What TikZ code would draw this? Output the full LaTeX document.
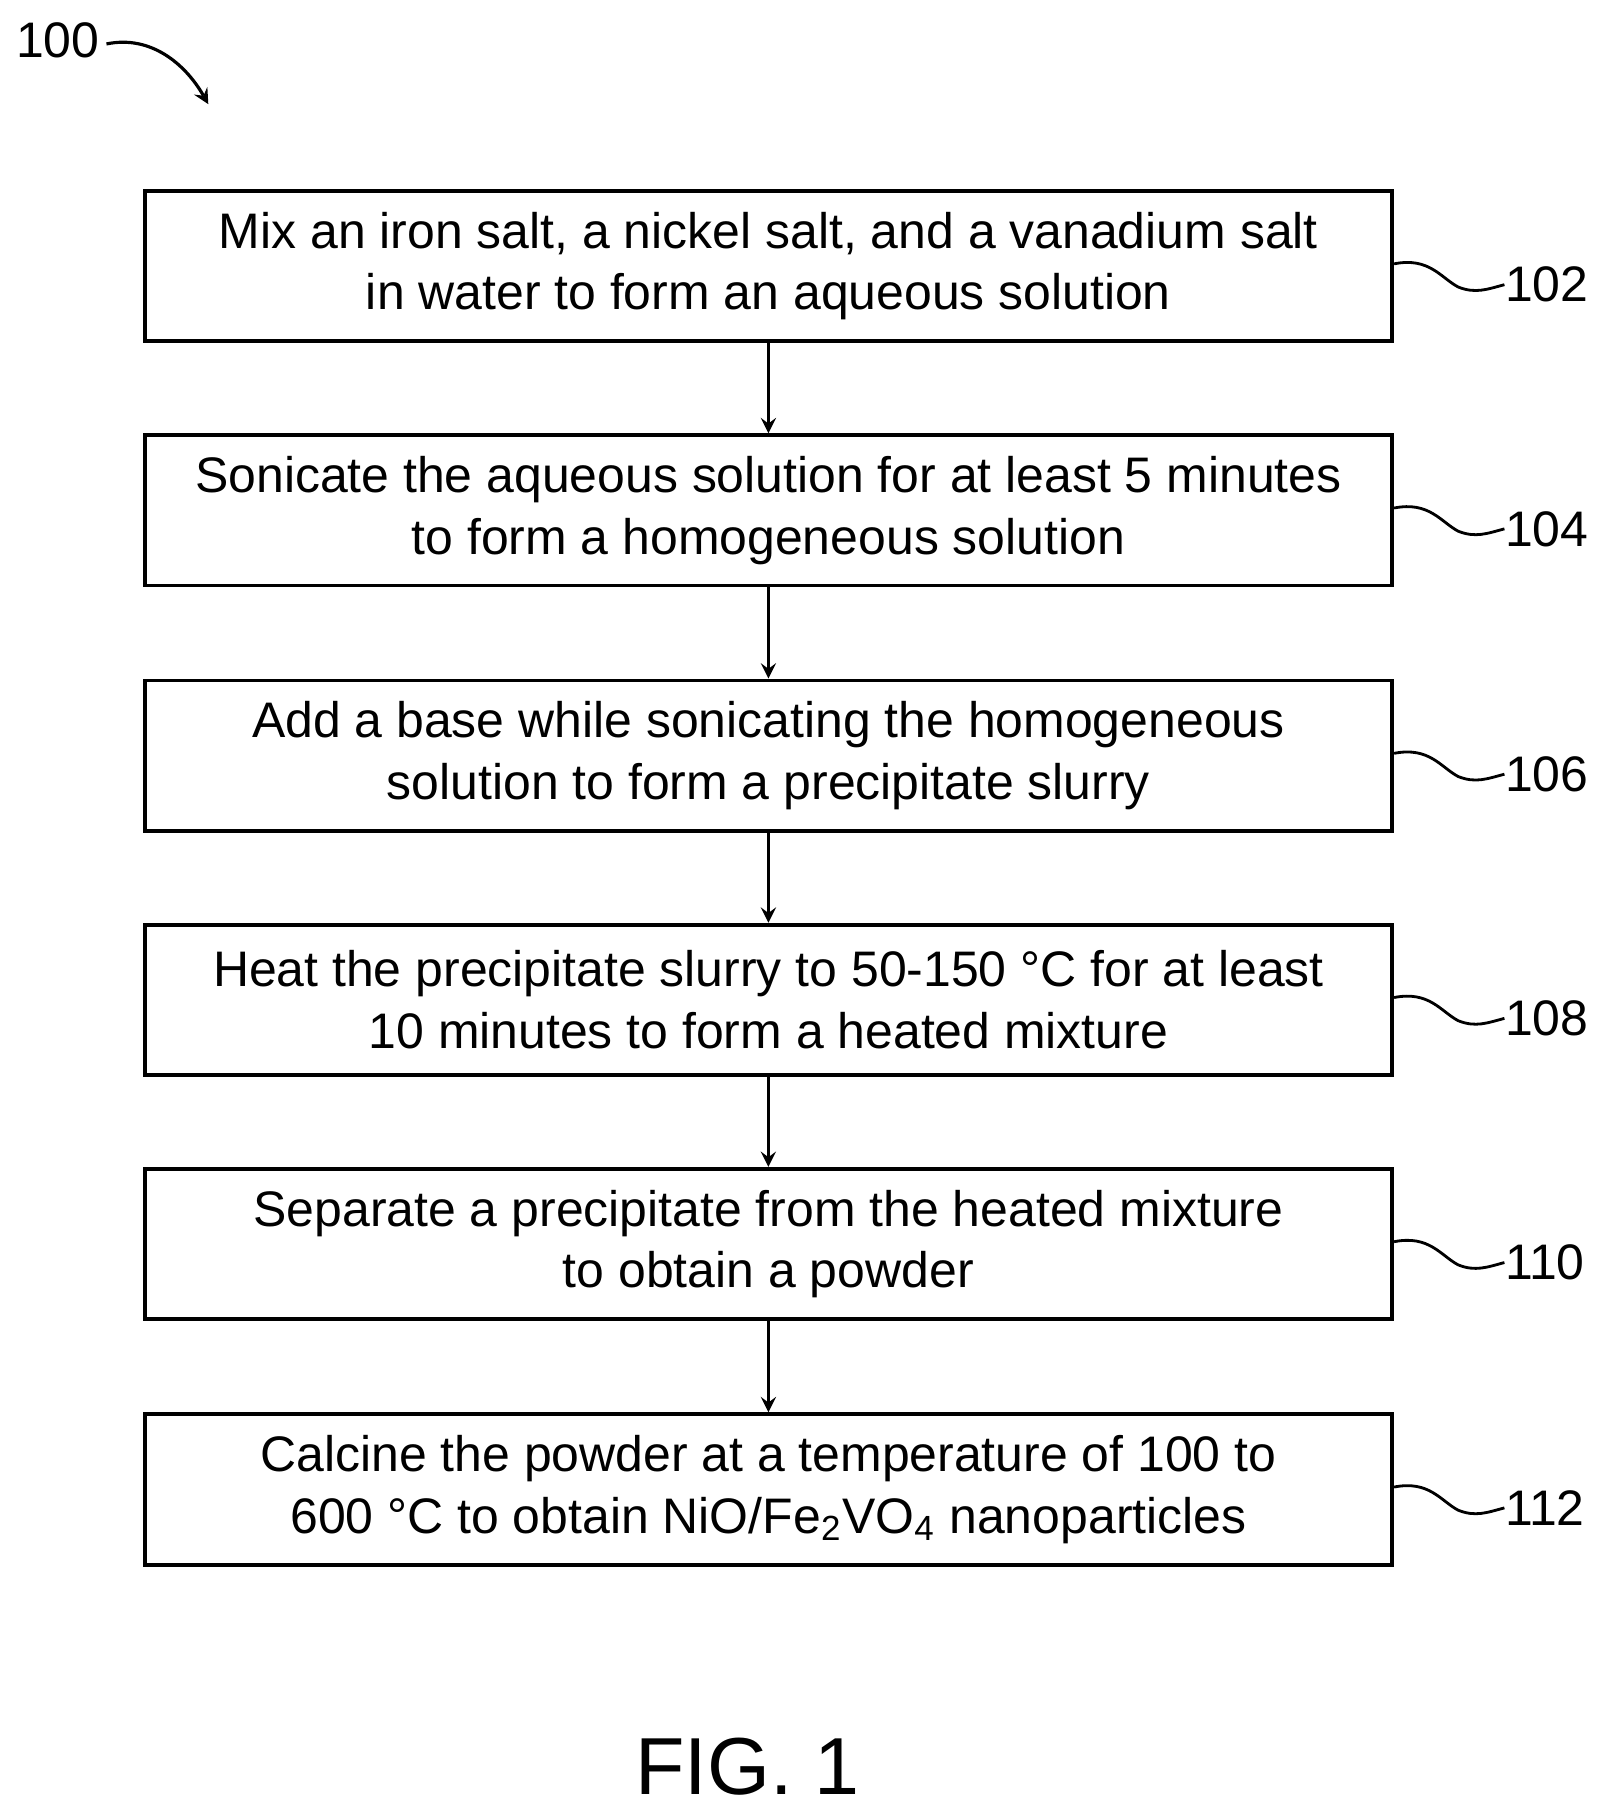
\documentclass[tikz,border=0pt]{standalone}
\usepackage{fontspec}
\setmainfont{Liberation Sans}
\usetikzlibrary{positioning}
\begin{document}
\begin{tikzpicture}[x=0.01157cm,y=-0.01157cm,
    stepbox/.style={draw,line width=1.1pt,minimum width=1078*0.01157cm,minimum height=130*0.01157cm,
      align=center,font=\fontsize{14.2}{17.5}\selectfont,inner sep=0pt},
    reflabel/.style={font=\fontsize{14.2}{17}\selectfont,anchor=west,inner sep=0pt},
    flow/.style={->,>=stealth,line width=0.9pt}]
    \useasboundingbox (0,0) rectangle (1390,1571);
    % etiqueta de figura
    \node[font=\fontsize{14.2}{17}\selectfont] (fig) at (50,35) {100};
    \draw[line width=0.9pt,->,>=stealth] (92,38) .. controls (130,30) and (160,55) .. (180,90);
    % pasos
    \node[stepbox] (s102) at (664,230) {Mix an iron salt, a nickel salt, and a vanadium salt\\in water to form an aqueous solution};
    \node[stepbox] (s104) at (664,441) {Sonicate the aqueous solution for at least 5 minutes\\to form a homogeneous solution};
    \node[stepbox] (s106) at (664,653) {Add a base while sonicating the homogeneous\\solution to form a precipitate slurry};
    \node[stepbox] (s108) at (664,864) {Heat the precipitate slurry to 50-150 °C for at least\\10 minutes to form a heated mixture};
    \node[stepbox] (s110) at (664,1075) {Separate a precipitate from the heated mixture\\to obtain a powder};
    \node[stepbox] (s112) at (664,1287) {Calcine the powder at a temperature of 100 to\\600 °C to obtain NiO/Fe\textsubscript{2}VO\textsubscript{4} nanoparticles};
    % flechas
    \draw[flow] (s102) -- (s104);
    \draw[flow] (s104) -- (s106);
    \draw[flow] (s106) -- (s108);
    \draw[flow] (s108) -- (s110);
    \draw[flow] (s110) -- (s112);
    % numeros de referencia
    \foreach \n/\yy in {102/230,104/441,106/653,108/864,110/1075,112/1287}{
      \node[reflabel] (l\n) at (1300,\yy+16) {\n};
      \draw[line width=0.8pt] (s\n.east |- 0,\yy-2) .. controls (1235,\yy-8) and (1245,\yy+10) .. (1260,\yy+18)
        .. controls (1275,\yy+24) and (1285,\yy+20) .. (l\n.west);
    }
    % titulo
    \node[font=\fontsize{23}{26}\selectfont] (title) at (646,1527) {FIG. 1};
\end{tikzpicture}
\end{document}
